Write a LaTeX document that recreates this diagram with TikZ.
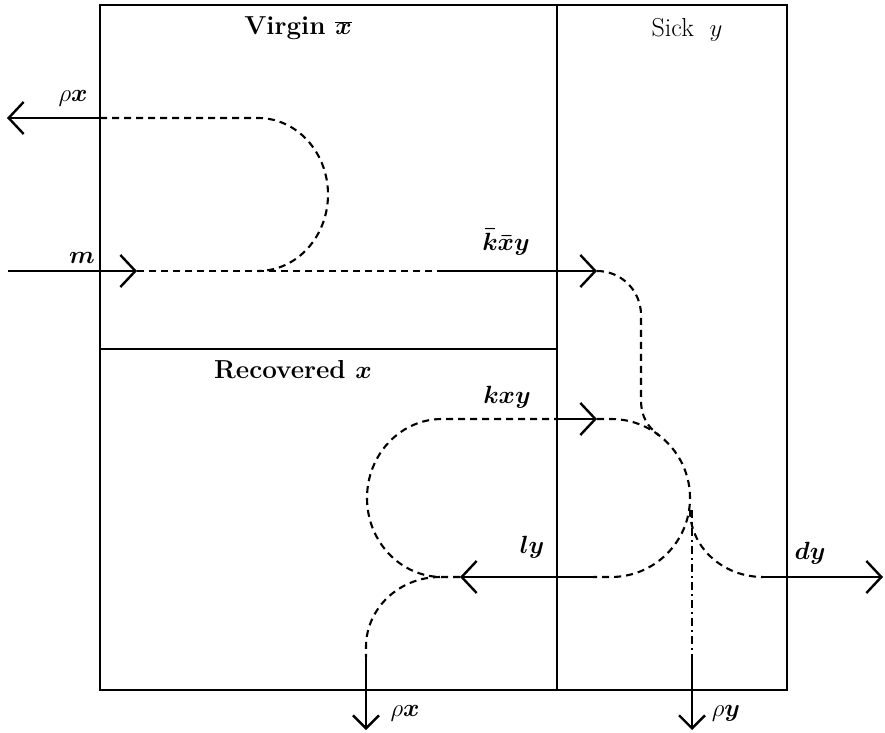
\documentclass[tikz,border=0pt]{standalone}
\usepackage{bm}
\usetikzlibrary{arrows.meta}
\begin{document}
\begin{tikzpicture}[x=1pt,y=1pt,
  wall/.style={line width=2.6pt},
  flow/.style={line width=2.4pt},
  dflow/.style={line width=2.1pt, dash pattern=on 7pt off 5pt},
  ddflow/.style={line width=2.1pt, dash pattern=on 8pt off 4pt on 2pt off 4pt},
  bigarrow/.style={-{Straight Barb[length=15pt,width=32pt,line width=2.4pt]}},
  smallarrow/.style={-{Straight Barb[length=13pt,width=26pt,line width=2.4pt]}},
  title/.style={font=\fontsize{26}{30}\selectfont, inner sep=0pt},
  lab/.style={font=\fontsize{23}{26}\selectfont, inner sep=0pt}]
\useasboundingbox (0,0) rectangle (885,732);
% walls
\coordinate (BL) at (100,42);
\coordinate (TR) at (787,727);
\coordinate (MT) at (557,727);
\coordinate (MB) at (557,42);
\coordinate (DL) at (100,383);
\coordinate (DR) at (557,383);
\draw[wall] (BL) rectangle (TR);
\draw[wall] (MT) -- (MB);
\draw[wall] (DL) -- (DR);
% titles
\node[title] (virgin) at (298,704) {\bfseries Virgin $\bm{\overline{x}}$};
\node[title] (sick) at (687,702) {Sick\ \ $y$};
\node[title] (recov) at (293,362) {\bfseries Recovered $\bm{x}$};
% labels
\node[lab] (lrx1) at (73,634) {$\rho\bm{x}$};
\node[lab] (lm) at (82,474) {$\bm{m}$};
\node[lab] (lkbar) at (506,490) {$\bm{\bar{k}\bar{x}y}$};
\node[lab] (lkxy) at (507,335) {$\bm{kxy}$};
\node[lab] (lly) at (532,185) {$\bm{ly}$};
\node[lab] (ldy) at (810,179) {$\bm{dy}$};
\node[lab] (lrx2) at (405,19) {$\rho\bm{x}$};
\node[lab] (lry) at (726,19) {$\rho\bm{y}$};
% points
\coordinate (px1) at (100,614);
\coordinate (px1tip) at (7,614);
\coordinate (D1) at (258,614);
\coordinate (m0) at (8,461);
\coordinate (mtip) at (137,461);
\coordinate (kb0) at (442,461);
\coordinate (kbtip) at (597,461);
\coordinate (vdown) at (641,332);
\coordinate (join) at (658.5,297);
\coordinate (k0) at (557,313);
\coordinate (ktip) at (597,313);
\coordinate (ctop) at (611,313);
\coordinate (ly0) at (593,155);
\coordinate (lytip) at (460,155);
\coordinate (lloop) at (442,155);
\coordinate (rxb) at (440,155);
\coordinate (rx2a) at (366,75);
\coordinate (rx2tip) at (366,2);
\coordinate (ry0) at (692,222);
\coordinate (rya) at (692,77);
\coordinate (rytip) at (692,2);
\coordinate (dy0) at (690,222);
\coordinate (dya) at (763,155);
\coordinate (dytip) at (883,155);
% rho x out of virgin
\draw[flow,bigarrow] (px1) -- (px1tip);
\draw[dflow] (px1) -- (D1) arc[start angle=90,end angle=-90,x radius=70pt,y radius=76.5pt];
% m and kbar x bar y
\draw[flow,bigarrow] (m0) -- (mtip);
\draw[dflow] (mtip) -- (kb0);
\draw[flow,bigarrow] (kb0) -- (kbtip);
\draw[dflow] (kbtip) arc[start angle=90,end angle=0,radius=44pt] -- (vdown)
   .. controls (641,315) and (648,305) .. (join);
% recovered loop and kxy
\draw[dflow] (lytip) -- (lloop) arc[start angle=-90,end angle=-270,x radius=75pt,y radius=79pt] -- (k0);
\draw[flow,bigarrow] (k0) -- (ktip);
\draw[dflow] (ktip) -- (ctop) arc[start angle=90,end angle=-90,radius=79pt] -- (ly0);
\draw[flow,bigarrow] (ly0) -- (lytip);
% rho x out of recovered
\draw[dflow] (rxb) arc[start angle=90,end angle=180,x radius=74pt,y radius=70pt] -- (rx2a);
\draw[flow,smallarrow] (rx2a) -- (rx2tip);
% rho y
\draw[ddflow] (ry0) -- (rya);
\draw[flow,smallarrow] (rya) -- (rytip);
% dy
\draw[dflow] (dy0) arc[start angle=180,end angle=270,x radius=73pt,y radius=67pt] -- (dya);
\draw[flow,bigarrow] (dya) -- (dytip);
\end{tikzpicture}
\end{document}
